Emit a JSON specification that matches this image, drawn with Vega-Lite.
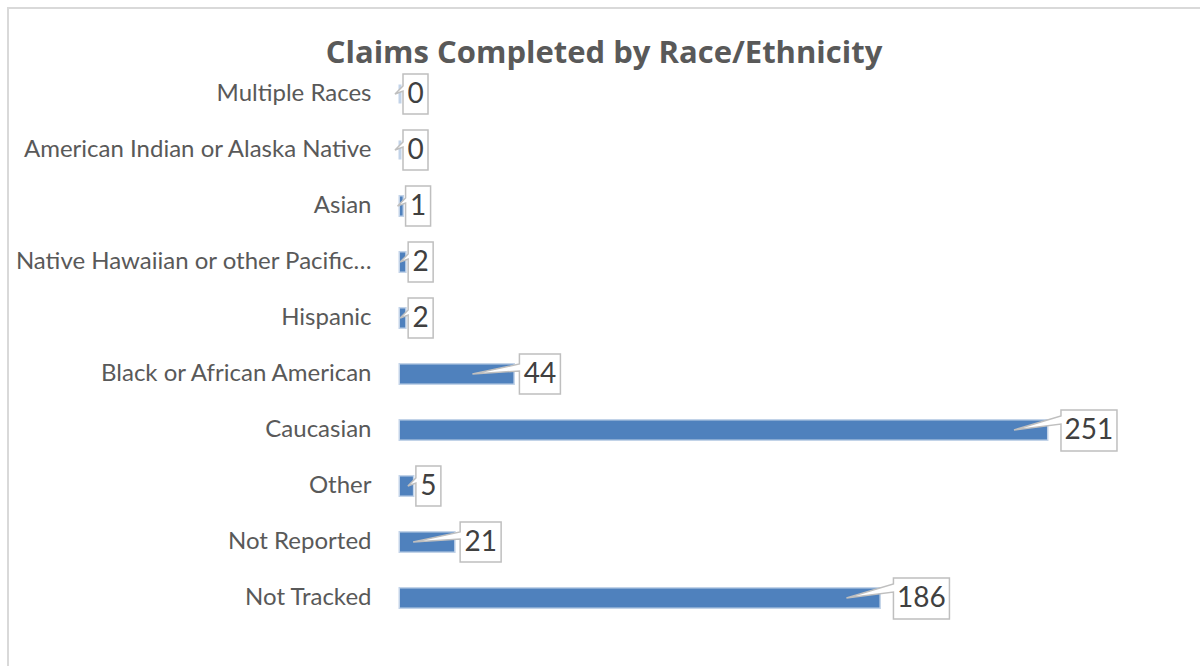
{
  "$schema": "https://vega.github.io/schema/vega-lite/v6.json",
  "width": 1200,
  "height": 676,
  "autosize": {"type": "none"},
  "padding": {"left": 8, "top": 8, "right": -8, "bottom": -18},
  "background": "#ffffff",
  "config": {
    "view": {"stroke": "#d9d9d9", "strokeWidth": 2},
    "font": "Lato"
  },
  "title": {
    "text": "Claims Completed by Race/Ethnicity",
    "font": "Open Sans",
    "fontSize": 31,
    "fontWeight": "bold",
    "color": "#595959",
    "anchor": "middle",
    "baseline": "alphabetic",
    "offset": -86,
    "dx": -4
  },
  "data": {
    "values": [
      {"category": "Multiple Races", "value": 0},
      {"category": "American Indian or Alaska Native", "value": 0},
      {"category": "Asian", "value": 1},
      {"category": "Native Hawaiian or other Pacific Islander", "value": 2},
      {"category": "Hispanic", "value": 2},
      {"category": "Black or African American", "value": 44},
      {"category": "Caucasian", "value": 251},
      {"category": "Other", "value": 5},
      {"category": "Not Reported", "value": 21},
      {"category": "Not Tracked", "value": 186}
    ]
  },
  "encoding": {
    "y": {
      "field": "category",
      "type": "nominal",
      "sort": null,
      "scale": {"paddingInner": 0.66, "paddingOuter": 0.33, "range": [58, 618]},
      "axis": {
        "title": null,
        "offset": -392,
        "ticks": false,
        "tickSize": 0,
        "domain": false,
        "grid": false,
        "labelPadding": 29,
        "labelFontSize": 24,
        "labelFont": "Lato",
        "labelColor": "#595959",
        "labelLimit": 420,
        "labelExpr": "replace(datum.label, ' Islander', '…')"
      }
    },
    "x": {
      "field": "value",
      "type": "quantitative",
      "scale": {"domain": [-152.08, 313.47], "nice": false, "zero": false},
      "axis": null
    }
  },
  "layer": [
    {
      "mark": {"type": "bar", "color": "#4f81bd", "stroke": "#4f81bd", "strokeOpacity": 0.35, "strokeWidth": 3},
      "encoding": {"x2": {"datum": 0}}
    },
    {
      "transform": [{"filter": "datum.value < 10"}],
      "mark": {"type": "point", "shape": "M3,-20 L28,-20 L28,20 L3,20 L3,-3 L-5,0 L3,-8 Z", "size": 4, "filled": true, "fill": "#ffffff", "stroke": "#bfbfbf", "strokeWidth": 1.5, "opacity": 1}
    },
    {
      "transform": [{"filter": "datum.value >= 10 && datum.value < 100"}],
      "mark": {"type": "point", "shape": "M6,-20 L47,-20 L47,20 L6,20 L6,-3 L-41,0 L6,-10 Z", "size": 4, "filled": true, "fill": "#ffffff", "stroke": "#bfbfbf", "strokeWidth": 1.5, "opacity": 1}
    },
    {
      "transform": [{"filter": "datum.value >= 100"}],
      "mark": {"type": "point", "shape": "M14,-20 L70,-20 L70,21 L14,21 L14,-6 L-33,0 L14,-14 Z", "size": 4, "filled": true, "fill": "#ffffff", "stroke": "#bfbfbf", "strokeWidth": 1.5, "opacity": 1}
    },
    {
      "transform": [{"filter": "datum.value < 10"}],
      "mark": {"type": "text", "align": "center", "baseline": "middle", "dx": 15.5, "dy": 1, "fontSize": 28, "font": "Lato", "color": "#404040"},
      "encoding": {"text": {"field": "value", "type": "quantitative"}}
    },
    {
      "transform": [{"filter": "datum.value >= 10 && datum.value < 100"}],
      "mark": {"type": "text", "align": "center", "baseline": "middle", "dx": 26.5, "dy": 1, "fontSize": 28, "font": "Lato", "color": "#404040"},
      "encoding": {"text": {"field": "value", "type": "quantitative"}}
    },
    {
      "transform": [{"filter": "datum.value >= 100"}],
      "mark": {"type": "text", "align": "center", "baseline": "middle", "dx": 42, "dy": 1, "fontSize": 28, "font": "Lato", "color": "#404040"},
      "encoding": {"text": {"field": "value", "type": "quantitative"}}
    }
  ]
}
